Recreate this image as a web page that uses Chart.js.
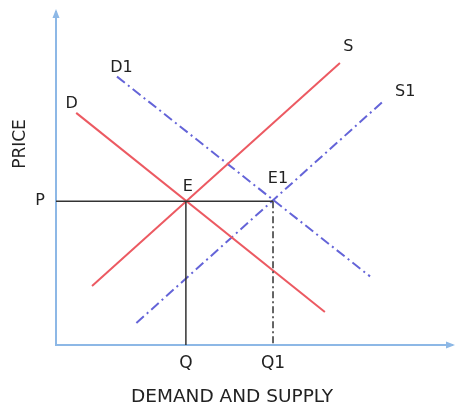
<!DOCTYPE html>
<html>
<head>
<meta charset="utf-8">
<script src="https://cdn.jsdelivr.net/npm/chart.js@4.4.1/dist/chart.umd.min.js"></script>
<style>
  html, body { margin: 0; padding: 0; background: #fff; }
  #wrap { width: 456px; height: 408px; }
</style>
</head>
<body>
<div id="wrap"><canvas id="chart" width="456" height="408"></canvas></div>
<script>
// curves, in quantity (x) / price (y) units, 0..100
const demand  = [{x: 5.1,  y: 69.7}, {x: 67.9, y: 9.9}];
const supply  = [{x: 9.1,  y: 17.7}, {x: 71.7, y: 84.7}];
const demand1 = [{x: 15.4, y: 80.6}, {x: 79.3, y: 20.6}];
const supply1 = [{x: 20.3, y: 6.6},  {x: 83.0, y: 73.6}];

// equilibrium points
const eqNames = ["E", "E1"];
const eqQuantity = [32.8, 54.8];
const eqPrice = 43.2;

// tick labels
const qTicks = eqQuantity;
const qLabels = ["Q", "Q1"];
const pTicks = [eqPrice];
const pLabels = ["P"];

const xTitle = "DEMAND AND SUPPLY";
const yTitle = "PRICE";

const axisColor = "#8db8e6";
const red = "#ec5a62";
const blue = "#6464d8";
const dashDot = [10, 4, 2, 4];

// guide lines built from the equilibrium values
const priceGuide = [{x: 0, y: eqPrice}, {x: eqQuantity[1], y: eqPrice}];
const qGuide = [{x: eqQuantity[0], y: eqPrice}, {x: eqQuantity[0], y: 0}];
const q1Guide = [{x: eqQuantity[1], y: eqPrice}, {x: eqQuantity[1], y: 0}];

function lineSet(data, color, dash, width) {
  return {
    data: data,
    borderColor: color,
    borderWidth: width || 2,
    borderDash: dash || [],
    pointRadius: 0,
    fill: false,
    tension: 0
  };
}

function noEdgePadding(s) {
  s.paddingTop = 0;
  s.paddingBottom = 0;
  s.paddingLeft = 0;
  s.paddingRight = 0;
}

const labelPlugin = {
  id: "labels",
  afterDraw(chart) {
    const { ctx, chartArea: a, scales: { x, y } } = chart;
    ctx.save();

    // arrow heads on the axes
    ctx.fillStyle = axisColor;
    ctx.beginPath();
    ctx.moveTo(a.left, a.top - 3);
    ctx.lineTo(a.left - 3.5, a.top + 6);
    ctx.lineTo(a.left + 3.5, a.top + 6);
    ctx.closePath();
    ctx.fill();
    ctx.beginPath();
    ctx.moveTo(a.right + 3, a.bottom);
    ctx.lineTo(a.right - 6, a.bottom - 3.5);
    ctx.lineTo(a.right - 6, a.bottom + 3.5);
    ctx.closePath();
    ctx.fill();

    // curve and point names
    const names = [
      { text: "D",  p: demand[0],  dx: -4.5, dy: -9 },
      { text: "D1", p: demand1[0], dx: 4.5,  dy: -9 },
      { text: "S",  p: supply[1],  dx: 8.5,  dy: -16 },
      { text: "S1", p: supply1[1], dx: 20.5, dy: -8 },
      { text: eqNames[0], p: {x: eqQuantity[0], y: eqPrice}, dx: 2, dy: -14 },
      { text: eqNames[1], p: {x: eqQuantity[1], y: eqPrice}, dx: 5, dy: -22 }
    ];
    ctx.fillStyle = "#222";
    ctx.font = '16px "DejaVu Sans"';
    ctx.textAlign = "center";
    ctx.textBaseline = "middle";
    names.forEach(n => {
      ctx.fillText(n.text, x.getPixelForValue(n.p.x) + n.dx, y.getPixelForValue(n.p.y) + n.dy);
    });

    // axis titles
    ctx.font = '18.5px "DejaVu Sans"';
    ctx.fillText(xTitle, 232, 397);
    ctx.font = '17px "DejaVu Sans"';
    ctx.translate(21, 144);
    ctx.rotate(-Math.PI / 2);
    ctx.fillText(yTitle, 0, 0);
    ctx.restore();
  }
};

new Chart(document.getElementById("chart"), {
  type: "line",
  data: {
    datasets: [
      lineSet(priceGuide, "#333", [], 1.5),
      lineSet(qGuide, "#333", [], 1.5),
      lineSet(q1Guide, "#333", [7, 3, 2, 3], 1.5),
      lineSet(demand, red),
      lineSet(supply, red),
      lineSet(demand1, blue, dashDot),
      lineSet(supply1, blue, dashDot)
    ]
  },
  options: {
    responsive: false,
    animation: false,
    devicePixelRatio: 1,
    layout: { padding: { left: 0, top: 12, right: 4, bottom: 0 } },
    plugins: { legend: { display: false }, tooltip: { enabled: false } },
    scales: {
      x: {
        type: "linear",
        min: 0,
        max: 100,
        grid: { display: false, drawTicks: false },
        border: { display: true, color: axisColor, width: 2 },
        afterBuildTicks: s => { s.ticks = qTicks.map(v => ({ value: v })); },
        afterFit: s => { s.height = 63; noEdgePadding(s); },
        ticks: {
          padding: 8,
          color: "#222",
          font: { family: "DejaVu Sans", size: 17 },
          autoSkip: false,
          maxRotation: 0,
          callback: (v, i) => qLabels[i]
        }
      },
      y: {
        type: "linear",
        min: 0,
        max: 100,
        grid: { display: false, drawTicks: false },
        border: { display: true, color: axisColor, width: 2 },
        afterBuildTicks: s => { s.ticks = pTicks.map(v => ({ value: v })); },
        afterFit: s => { s.width = 56; noEdgePadding(s); },
        ticks: {
          padding: 11,
          color: "#222",
          font: { family: "DejaVu Sans", size: 16 },
          autoSkip: false,
          callback: (v, i) => pLabels[i]
        }
      }
    }
  },
  plugins: [labelPlugin]
});
</script>
</body>
</html>
